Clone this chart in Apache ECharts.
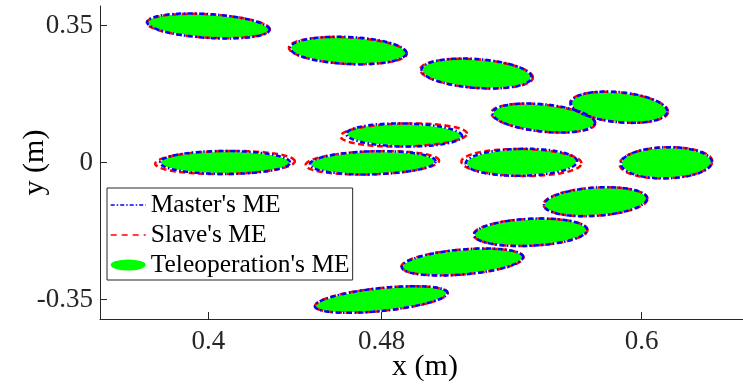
<!DOCTYPE html>
<html>
<head>
<meta charset="utf-8">
<script src="https://cdn.jsdelivr.net/npm/echarts@6/dist/echarts.min.js"></script>
<style>
  html, body { margin: 0; padding: 0; background: #fff; }
  #chart { width: 743px; height: 386px; }
</style>
</head>
<body>
<div id="chart"></div>
<script>
// Tick positions shown on each axis
const xTicks = [0.4, 0.48, 0.6];
const yTicks = [-0.35, 0, 0.35];

// Manipulability ellipses: [centerX, centerY, halfWidthX, halfHeightY, tiltY]
// tiltY is the vertical offset of the ellipse's right end from its centre.
const teleoperationME = [
  [0.4000, 0.3489, 0.0277, 0.0279, -0.0097],
  [0.4646, 0.2863, 0.0263, 0.0319, -0.0064],
  [0.5238, 0.2275, 0.0249, 0.0345, -0.0095],
  [0.5548, 0.1137, 0.0231, 0.0325, -0.0120],
  [0.5896, 0.1413, 0.0217, 0.0360, -0.0107],
  [0.4904, 0.0703, 0.0262, 0.0268, -0.0026],
  [0.4077, 0.0000, 0.0295, 0.0268, 0.0000],
  [0.4759, -0.0008, 0.0285, 0.0268, 0.0038],
  [0.5445, 0.0005, 0.0252, 0.0319, 0.0026],
  [0.6114, -0.0008, 0.0205, 0.0371, 0.0020],
  [0.5787, -0.1002, 0.0233, 0.0335, 0.0084],
  [0.5487, -0.1784, 0.0256, 0.0319, 0.0064],
  [0.5173, -0.2543, 0.0275, 0.0294, 0.0128],
  [0.4798, -0.3502, 0.0301, 0.0268, 0.0171]
];

const masterME = [
  [0.4000, 0.3489, 0.0282, 0.0305, -0.0097],
  [0.4646, 0.2863, 0.0268, 0.0345, -0.0064],
  [0.5238, 0.2275, 0.0254, 0.0371, -0.0095],
  [0.5548, 0.1137, 0.0236, 0.0351, -0.0120],
  [0.5896, 0.1413, 0.0222, 0.0386, -0.0107],
  [0.4904, 0.0703, 0.0267, 0.0294, -0.0026],
  [0.4077, 0.0000, 0.0300, 0.0294, 0.0000],
  [0.4759, -0.0008, 0.0290, 0.0294, 0.0038],
  [0.5445, 0.0005, 0.0257, 0.0345, 0.0026],
  [0.6114, -0.0008, 0.0210, 0.0397, 0.0020],
  [0.5787, -0.1002, 0.0238, 0.0361, 0.0084],
  [0.5487, -0.1784, 0.0261, 0.0345, 0.0064],
  [0.5173, -0.2543, 0.0280, 0.0320, 0.0128],
  [0.4798, -0.3502, 0.0306, 0.0294, 0.0171]
];

const slaveME = [
  [0.4000, 0.3489, 0.0284, 0.0300, -0.0085],
  [0.4644, 0.2860, 0.0272, 0.0340, -0.0075],
  [0.5238, 0.2272, 0.0260, 0.0365, -0.0100],
  [0.5546, 0.1135, 0.0240, 0.0345, -0.0130],
  [0.5896, 0.1410, 0.0226, 0.0380, -0.0110],
  [0.4902, 0.0703, 0.0292, 0.0294, 0.0035],
  [0.4077, 0.0000, 0.0322, 0.0294, 0.0030],
  [0.4757, -0.0008, 0.0308, 0.0294, 0.0055],
  [0.5445, 0.0000, 0.0277, 0.0345, -0.0020],
  [0.6112, -0.0008, 0.0214, 0.0397, 0.0035],
  [0.5787, -0.1002, 0.0240, 0.0361, 0.0075],
  [0.5487, -0.1784, 0.0263, 0.0345, 0.0060],
  [0.5173, -0.2543, 0.0282, 0.0320, 0.0120],
  [0.4798, -0.3502, 0.0306, 0.0294, 0.0165]
];

const SERIF = 'Liberation Serif, Times New Roman, serif';
const AXIS_COLOR = '#262626';
const SEGMENTS = 96;

// Builds a renderItem that traces one ellipse per data row in axis coordinates.
function ellipseRenderer(style) {
  return function (params, api) {
    const cx = api.value(0), cy = api.value(1);
    const a = api.value(2), b = api.value(3), k = api.value(4);
    const points = [];
    for (let i = 0; i < SEGMENTS; i++) {
      const t = 2 * Math.PI * i / SEGMENTS;
      const c = Math.cos(t), s = Math.sin(t);
      points.push(api.coord([cx + a * c, cy + b * s + k * c]));
    }
    return { type: 'polygon', shape: { points: points }, style: style };
  };
}

const chart = echarts.init(document.getElementById('chart'), null, { renderer: 'canvas' });

chart.setOption({
  animation: false,
  backgroundColor: '#ffffff',
  grid: { left: 100, top: 6, right: -7, bottom: 67, containLabel: false, outerBoundsMode: 'none' },
  xAxis: {
    type: 'value',
    min: 0.35,
    max: 0.65,
    name: 'x (m)',
    nameLocation: 'middle',
    nameGap: 33,
    nameMoveOverlap: false,
    nameTextStyle: { fontFamily: SERIF, fontSize: 30, color: '#000' },
    axisLine: { onZero: false, lineStyle: { color: AXIS_COLOR, width: 1 } },
    axisTick: { inside: true, length: 7, customValues: xTicks, lineStyle: { color: AXIS_COLOR } },
    axisLabel: { customValues: xTicks, margin: 9, fontFamily: SERIF, fontSize: 27, color: AXIS_COLOR },
    splitLine: { show: false }
  },
  yAxis: {
    type: 'value',
    min: -0.4,
    max: 0.4,
    name: 'y (m)',
    nameLocation: 'middle',
    nameGap: 50,
    nameMoveOverlap: false,
    nameTextStyle: { fontFamily: SERIF, fontSize: 30, color: '#000' },
    axisLine: { onZero: false, lineStyle: { color: AXIS_COLOR, width: 1 } },
    axisTick: { inside: true, length: 7, customValues: yTicks, lineStyle: { color: AXIS_COLOR } },
    axisLabel: { customValues: yTicks, margin: 7, fontFamily: SERIF, fontSize: 27, color: AXIS_COLOR },
    splitLine: { show: false }
  },
  legend: {
    orient: 'vertical',
    left: 107,
    top: 188,
    padding: [2, 3, 0, 3],
    itemGap: 0,
    itemWidth: 35,
    itemHeight: 14,
    selectedMode: false,
    backgroundColor: '#ffffff',
    borderColor: AXIS_COLOR,
    borderWidth: 1,
    borderRadius: 0,
    textStyle: { fontFamily: SERIF, fontSize: 25.5, color: '#000', lineHeight: 30, padding: 0 },
    data: [
      {
        name: "Master's ME",
        icon: 'path://M0,0M0,7L35,7M35,14',
        itemStyle: { color: 'rgba(0,0,0,0)', borderColor: '#0000ff', borderWidth: 1.4, borderType: [4, 2, 1.5, 2] }
      },
      {
        name: "Slave's ME",
        icon: 'path://M0,0M0,7L35,7M35,14',
        itemStyle: { color: 'rgba(0,0,0,0)', borderColor: '#ff0000', borderWidth: 1.4, borderType: [6, 5] }
      },
      {
        name: "Teleoperation's ME",
        icon: 'path://M0,0M0,7A17.5,5.5 0 1,1 35,7A17.5,5.5 0 1,1 0,7ZM35,14',
        itemStyle: { color: '#00ff00', borderWidth: 0 }
      }
    ]
  },
  series: [
    {
      name: "Teleoperation's ME",
      type: 'custom',
      z: 2,
      clip: false,
      encode: { x: 0, y: 1 },
      itemStyle: { color: '#00ff00' },
      renderItem: ellipseRenderer({ fill: '#00ff00', stroke: 'none' }),
      data: teleoperationME
    },
    {
      name: "Slave's ME",
      type: 'custom',
      z: 3,
      clip: false,
      encode: { x: 0, y: 1 },
      itemStyle: { color: '#ff0000' },
      renderItem: ellipseRenderer({ fill: 'none', stroke: '#ff0000', lineWidth: 2.5, lineDash: [6, 3.5] }),
      data: slaveME
    },
    {
      name: "Master's ME",
      type: 'custom',
      z: 4,
      clip: false,
      encode: { x: 0, y: 1 },
      itemStyle: { color: '#0000ff' },
      renderItem: ellipseRenderer({ fill: 'none', stroke: '#0000ff', lineWidth: 2.5, lineDash: [5, 2.5, 1.5, 2.5] }),
      data: masterME
    }
  ]
});
</script>
</body>
</html>
